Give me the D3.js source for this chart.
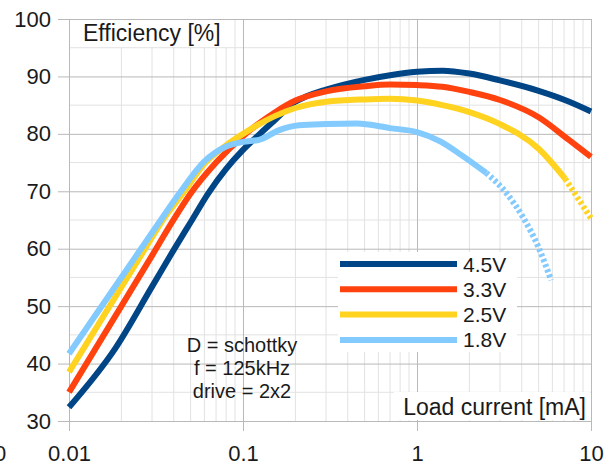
<!DOCTYPE html>
<html>
<head>
<meta charset="utf-8">
<script src="https://cdn.jsdelivr.net/npm/d3@7"></script>
<style>
  body { margin: 0; background: #fff; }
  svg { display: block; font-family: "Liberation Sans", Arial, sans-serif; }
</style>
</head>
<body>
<div id="chart"></div>
<script>
"use strict";

// data
var seriesNames = ["4.5V", "3.3V", "2.5V", "1.8V"];
var seriesColors = ["#004586", "#ff420e", "#ffd320", "#83caff"];

var load45 = [0.01, 0.0185, 0.03, 0.04, 0.05, 0.063, 0.08, 0.1, 0.125, 0.15, 0.2, 0.23, 0.3, 0.5, 0.7, 1.0, 1.4, 2.0, 3.0, 5.0, 7.5, 10];
var eff45  = [32.4, 42.7, 53.4, 59.8, 64.6, 69.6, 73.9, 77.2, 80.0, 82.2, 85.6, 86.5, 87.7, 89.4, 90.2, 90.8, 91.0, 90.5, 89.3, 87.5, 85.6, 83.9];

var load33 = [0.01, 0.02, 0.03, 0.04, 0.05, 0.07, 0.1, 0.15, 0.2, 0.3, 0.5, 0.7, 1.0, 1.4, 2.0, 3.0, 5.0, 7.5, 10];
var eff33  = [35.0, 50.0, 58.8, 65.1, 69.6, 75.0, 79.6, 83.6, 85.8, 87.4, 88.3, 88.6, 88.5, 88.2, 87.3, 85.9, 82.9, 78.9, 76.0];

var load25 = [0.01, 0.02, 0.027, 0.035, 0.045, 0.06, 0.08, 0.1, 0.15, 0.2, 0.3, 0.5, 0.7, 1.0, 1.4, 2.0, 3.0, 5.0, 7.1, 10];
var eff25  = [38.5, 53.3, 59.7, 65.2, 69.6, 74.8, 78.0, 80.0, 83.0, 84.5, 85.6, 86.0, 86.1, 85.8, 85.0, 83.8, 81.7, 77.4, 72.2, 65.3];

var load18 = [0.01, 0.02, 0.033, 0.043, 0.06, 0.08, 0.1, 0.125, 0.16, 0.21, 0.3, 0.45, 0.7, 1.0, 1.36, 1.8, 2.5, 3.3, 4.1, 5.0, 5.9];
var eff18  = [41.7, 55.0, 64.6, 69.6, 75.2, 77.8, 78.6, 79.0, 80.6, 81.5, 81.7, 81.8, 81.0, 80.3, 78.7, 76.3, 73.2, 69.5, 65.3, 60.2, 54.5];

// measured range ends, drawn dotted beyond this current
var dottedFrom = [null, null, 7.1, 2.5];

var xTicks = [0.01, 0.1, 1, 10];
var xTickLabels = ["0.01", "0.1", "1", "10"];
var yTicks = [30, 40, 50, 60, 70, 80, 90, 100];

var notes = ["D = schottky", "f = 125kHz", "drive = 2x2"];

var loads = [load45, load33, load25, load18];
var effs = [eff45, eff33, eff25, eff18];

// svg
var W = 610, H = 469;
var svg = d3.select("#chart").append("svg")
    .attr("width", W)
    .attr("height", H);

svg.append("rect").attr("width", W).attr("height", H).attr("fill", "#fff");

// scales
var x = d3.scaleLog().domain([0.01, 10]).range([69, 591]);
var y = d3.scaleLinear().domain([30, 100]).range([421, 19]);

// minor grid
var minorX = [];
[0.01, 0.1, 1].forEach(function (dec) {
    for (var k = 2; k <= 9; k++) minorX.push(dec * k);
});
var minorY = d3.range(35, 100, 10);

svg.append("g").selectAll("line")
    .data(minorX)
    .join("line")
    .attr("x1", d => x(d)).attr("x2", d => x(d))
    .attr("y1", y(100)).attr("y2", y(30))
    .attr("stroke", "#e2e2e2").attr("stroke-width", 1);

svg.append("g").selectAll("line")
    .data(minorY)
    .join("line")
    .attr("x1", x(0.01)).attr("x2", x(10))
    .attr("y1", d => y(d)).attr("y2", d => y(d))
    .attr("stroke", "#e2e2e2").attr("stroke-width", 1);

// major grid + labels via axes
var yAxis = svg.append("g")
    .attr("transform", "translate(58,0)")
    .call(d3.axisLeft(y).tickValues(yTicks).tickSize(-(591 - 58)).tickPadding(7));

var xAxis = svg.append("g")
    .attr("transform", "translate(0,19)")
    .call(d3.axisBottom(x).tickValues(xTicks).tickSize(412).tickPadding(14)
        .tickFormat((d, i) => xTickLabels[i]));

[yAxis, xAxis].forEach(function (g) {
    g.select(".domain").remove();
    g.selectAll(".tick line").attr("stroke", "#b9b9b9").attr("stroke-width", 1);
    g.selectAll(".tick text")
        .attr("fill", "#1a1a1a")
        .style("font-size", "22px")
        .style("font-family", "'Liberation Sans', Arial, sans-serif");
});

// stray clipped label at far left (as in the source image)
svg.append("text")
    .attr("x", -6).attr("y", 461)
    .attr("fill", "#1a1a1a")
    .style("font-size", "22px")
    .text("0");

// curves
var line = d3.line()
    .x(d => x(d[0]))
    .y(d => y(d[1]))
    .curve(d3.curveMonotoneX);

var curves = svg.append("g");
seriesNames.forEach(function (name, i) {
    var pts = loads[i].map((v, j) => [v, effs[i][j]]);
    var cut = dottedFrom[i];
    var solid = cut == null ? pts : pts.filter(p => p[0] <= cut);
    curves.append("path")
        .datum(solid)
        .attr("fill", "none")
        .attr("stroke", seriesColors[i])
        .attr("stroke-width", 6)
        .attr("d", line);
    if (cut != null) {
        curves.append("path")
            .datum(pts.filter(p => p[0] >= cut))
            .attr("fill", "none")
            .attr("stroke", seriesColors[i])
            .attr("stroke-width", 6)
            .attr("stroke-dasharray", "3,2.5")
            .attr("d", line);
    }
});

// axis titles with white backgrounds
svg.append("rect").attr("x", 76).attr("y", 20).attr("width", 152).attr("height", 27).attr("fill", "#fff");
svg.append("text")
    .attr("x", 83).attr("y", 41)
    .attr("fill", "#1a1a1a")
    .style("font-size", "23px")
    .text("Efficiency [%]");

svg.append("rect").attr("x", 394).attr("y", 392).attr("width", 196).attr("height", 28).attr("fill", "#fff");
svg.append("text")
    .attr("x", 586).attr("y", 415)
    .attr("text-anchor", "end")
    .attr("fill", "#1a1a1a")
    .style("font-size", "23px")
    .text("Load current [mA]");

// notes
svg.append("g").selectAll("text")
    .data(notes)
    .join("text")
    .attr("x", 242)
    .attr("y", (d, i) => 352 + i * 23)
    .attr("text-anchor", "middle")
    .attr("fill", "#1a1a1a")
    .style("font-size", "20px")
    .text(d => d);

// legend
var legend = svg.append("g");
legend.append("rect")
    .attr("x", 338).attr("y", 252).attr("width", 179).attr("height", 100)
    .attr("fill", "#fff");

var leg = legend.selectAll("g")
    .data(seriesNames)
    .join("g")
    .attr("transform", (d, i) => `translate(0,${264 + i * 25.3})`);

leg.append("line")
    .attr("x1", 340).attr("x2", 457)
    .attr("stroke", (d, i) => seriesColors[i])
    .attr("stroke-width", 6);

leg.append("text")
    .attr("x", 463).attr("y", 7.5)
    .attr("fill", "#1a1a1a")
    .style("font-size", "21px")
    .text(d => d);
</script>
</body>
</html>
